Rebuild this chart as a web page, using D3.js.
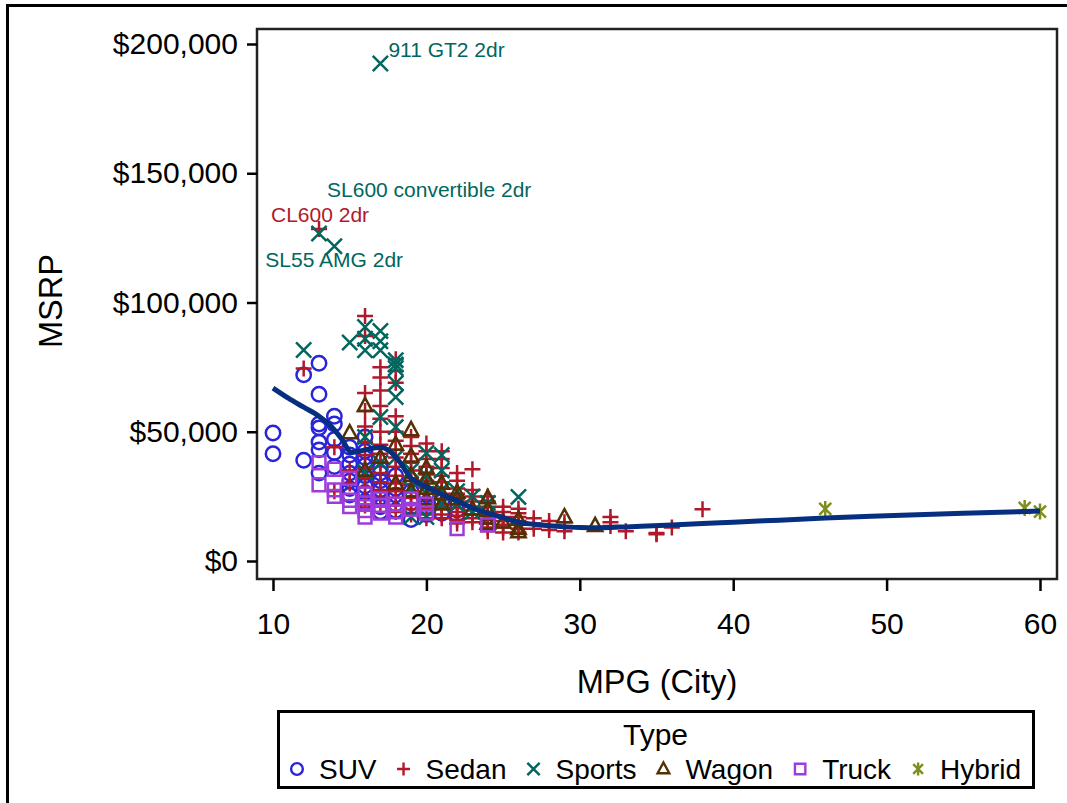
<!DOCTYPE html>
<html>
<head>
<meta charset="utf-8">
<script src="https://cdn.jsdelivr.net/npm/d3@7"></script>
<style>
body { margin: 0; background: #fff; }
svg { display: block; font-family: "Liberation Sans", Arial, sans-serif; }
</style>
</head>
<body>
<svg width="1067" height="803"></svg>
<script>
// values: [MPG (City), MSRP]
var suv = [[10,49500],[10,41500],[12,72000],[12,39000],[13,76500],[13,64500],[13,53000],[13,51500],[13,46000],[13,43000],[13,34000],
  [14,56000],[14,53000],[14,47000],[14,42000],[14,36500],[15,44000],[15,41000],[15,37500],[15,34000],[15,31000],[15,28000],[15,25500],
  [16,48000],[16,42500],[16,40000],[16,37000],[16,33000],[16,29000],[16,26500],[16,23000],[17,36000],[17,34000],[17,31000],[17,27500],
  [17,24500],[17,21000],[17,19000],[18,33000],[18,28000],[18,25500],[18,22000],[18,19500],[19,27000],[19,22500],[19,16000],
  [20,25500],[20,21000],[20,18000],[21,23000],[21,18500],[22,19700],[22,18000]];
var sedan = [[12,74500],[13,128420],[14,27000],[14,44000],[15,35000],[15,30000],
  [16,94800],[16,87000],[16,65000],[16,58000],[16,52000],[16,46000],[16,41000],[16,36000],[16,32000],[16,28500],[16,25000],[16,21500],
  [17,75000],[17,71000],[17,66000],[17,60000],[17,55000],[17,50000],[17,45000],[17,41500],[17,38000],[17,34000],[17,30500],[17,27500],[17,24500],[17,21500],
  [18,78000],[18,73500],[18,69000],[18,56000],[18,50000],[18,46500],[18,43000],[18,40000],[18,36500],[18,33000],[18,30000],[18,27000],[18,24500],[18,21500],[18,19000],
  [19,48000],[19,44500],[19,41500],[19,38000],[19,35000],[19,32000],[19,29500],[19,27000],[19,24500],[19,22000],[19,20000],[19,18000],
  [20,45500],[20,42500],[20,39500],[20,36500],[20,33500],[20,31000],[20,28500],[20,26000],[20,24000],[20,22000],[20,20000],[20,18000],[20,16500],
  [21,42500],[21,39500],[21,36000],[21,33000],[21,30500],[21,28000],[21,26000],[21,24000],[21,22000],[21,20000],[21,18000],[21,16500],
  [22,34000],[22,31000],[22,28000],[22,26000],[22,24000],[22,22000],[22,20500],[22,19000],[22,17500],[22,16000],[22,14500],
  [23,35500],[23,27500],[23,25000],[23,23000],[23,21000],[23,19500],[23,18000],[23,16500],[23,15000],
  [24,25000],[24,23000],[24,21000],[24,19000],[24,17500],[24,16000],[24,14500],[24,13000],[24,11500],
  [25,21000],[25,19000],[25,17000],[25,15500],[25,14000],[25,13000],[25,11000],
  [26,20200],[26,18500],[26,17000],[26,15500],[26,14000],[26,12500],[26,11000],
  [27,16500],[27,14500],[27,12500],[28,15500],[28,13500],[28,12000],[29,15000],[29,13500],[29,11500],
  [32,17000],[32,15000],[32,13500],[33,11500],[35,10800],[35,10300],[36,13000],[38,20000]];
var sports = [[12,81600],[13,126670],[14,121770],[15,84500],[16,90500],[16,86000],[16,81500],[16,48000],[16,34500],
  [17,192465],[17,89000],[17,85000],[17,81500],[17,55700],[17,38000],[18,77700],[18,76000],[18,74600],[18,68800],[18,63400],[18,51800],[18,40000],
  [19,35000],[19,28000],[19,17000],[20,41800],[20,33000],[20,26000],[20,17000],[21,41000],[21,35000],[21,27500],[21,22000],
  [22,27000],[22,22000],[23,25000],[23,19000],[24,22400],[24,18000],[26,24800]];
var wagon = [[15,49500],[16,60000],[16,35000],[17,40000],[18,45000],[18,30000],[19,50700],[19,40500],[19,33000],[19,27000],
  [20,36000],[20,32000],[20,28000],[20,24000],[21,30000],[21,26000],[21,22000],[22,26500],[22,24000],[23,20000],
  [24,24400],[24,19500],[24,16500],[24,14500],[25,15000],[26,16000],[26,12500],[26,11200],[29,17000],[31,13600]];
var truck = [[13,38000],[13,29500],[14,35500],[14,27500],[14,25000],[15,32000],[15,23500],[15,21000],[16,26000],[16,22500],[16,19500],[16,17000],
  [17,24000],[17,21500],[17,18500],[18,22000],[18,19000],[18,17000],[19,20000],[19,24000],[20,18500],[20,22000],[22,12500],[24,14000]];
var hybrid = [[46,20140],[59,20510],[60,19110]];

// loess fit
var fitMpg  = [10, 11, 12, 13, 13.8, 14.5, 15.1, 16, 17, 17.6, 18.3, 19, 19.7, 20.4, 21.3, 22, 23, 24, 25, 26, 27, 28, 29, 30, 31, 32, 33, 34, 36, 38, 40, 43, 46, 49, 52, 55, 58, 60];
var fitMsrp = [66900, 63000, 59500, 56000, 52000, 47000, 42000, 43000, 44000, 42500, 38000, 32000, 29500, 27500, 25000, 23300, 20500, 18500, 16800, 15000, 14200, 13600, 13200, 13000, 12900, 13000, 13200, 13400, 13900, 14500, 15000, 15800, 16600, 17300, 17900, 18500, 19000, 19300];

var typeNames = ['SUV', 'Sedan', 'Sports', 'Wagon', 'Truck', 'Hybrid'];
var typeData = [suv, sedan, sports, wagon, truck, hybrid];
var typeColors = ['#2A25D9', '#B2182B', '#01665E', '#543005', '#9D3CDB', '#7F8E1F'];
var typeShapes = ['circle', 'plus', 'x', 'triangle', 'square', 'asterisk'];

var xTicks = [10, 20, 30, 40, 50, 60];
var yTicks = [0, 50000, 100000, 150000, 200000];

// labelled outliers
var labelText = ['911 GT2 2dr', 'SL600 convertible 2dr', 'CL600 2dr', 'SL55 AMG 2dr'];
var labelPoint = [[17,192465], [13,126670], [13,128420], [14,121770]];
var labelType = [2, 2, 1, 2];
var labelOffset = [[8,-6], [8,-37], [-48,-7], [-69,21]];

var svg = d3.select('svg');

// outer frame (left and top edges only visible)
svg.append('path')
    .attr('d', 'M7.5,803 V5.5 H1067')
    .attr('fill', 'none').attr('stroke', '#000').attr('stroke-width', 3);

var x = d3.scaleLinear().domain([10, 60]).range([273, 1040]);
var y = d3.scaleLinear().domain([0, 200000]).range([561, 44]);
var frame = {left: 257, right: 1057, top: 29, bottom: 579};

function marker(shape, r) {
  if (shape == 'circle') { var c = r * 0.9; return 'M' + c + ',0A' + c + ',' + c + ' 0 1 1 ' + (-c) + ',0A' + c + ',' + c + ' 0 1 1 ' + c + ',0'; }
  if (shape == 'plus') return 'M' + (-r) + ',0H' + r + 'M0,' + (-r) + 'V' + r;
  if (shape == 'x') { var a = r * 0.95; return 'M' + (-a) + ',' + (-a) + 'L' + a + ',' + a + 'M' + (-a) + ',' + a + 'L' + a + ',' + (-a); }
  if (shape == 'triangle') return 'M0,' + (-r * 1.0) + 'L' + (r * 0.9) + ',' + (r * 0.65) + 'H' + (-r * 0.9) + 'Z';
  if (shape == 'square') { var s = r * 0.8; return 'M' + (-s) + ',' + (-s) + 'H' + s + 'V' + s + 'H' + (-s) + 'Z'; }
  var b = r * 0.75;
  return 'M0,' + (-r) + 'V' + r + 'M' + (-b) + ',' + (-b) + 'L' + b + ',' + b + 'M' + (-b) + ',' + b + 'L' + b + ',' + (-b);
}

// points
var plot = svg.append('g');
typeData.forEach(function(arr, i) {
  plot.append('g').selectAll('path')
    .data(arr)
    .enter().append('path')
      .attr('transform', function(d) { return 'translate(' + x(d[0]) + ',' + y(d[1]) + ')'; })
      .attr('d', marker(typeShapes[i], 8))
      .attr('fill', 'none')
      .attr('stroke', typeColors[i])
      .attr('stroke-width', 2.5);
});

// loess curve
var line = d3.line()
    .x(function(d, i) { return x(fitMpg[i]); })
    .y(function(d) { return y(d); })
    .curve(d3.curveMonotoneX);
svg.append('path')
    .attr('d', line(fitMsrp))
    .attr('fill', 'none')
    .attr('stroke', '#062F80')
    .attr('stroke-width', 5)
    .attr('stroke-linejoin', 'round');

// point labels
svg.append('g').selectAll('text')
  .data(labelText)
  .enter().append('text')
    .attr('x', function(d, i) { return x(labelPoint[i][0]) + labelOffset[i][0]; })
    .attr('y', function(d, i) { return y(labelPoint[i][1]) + labelOffset[i][1]; })
    .attr('fill', function(d, i) { return typeColors[labelType[i]]; })
    .attr('font-size', 21)
    .text(function(d) { return d; });

// plot frame
svg.append('rect')
    .attr('x', frame.left).attr('y', frame.top)
    .attr('width', frame.right - frame.left).attr('height', frame.bottom - frame.top)
    .attr('fill', 'none').attr('stroke', '#222').attr('stroke-width', 2.5);

// y axis
var yAxis = svg.append('g')
    .attr('transform', 'translate(' + frame.left + ',0)')
    .call(d3.axisLeft(y).tickValues(yTicks).tickSize(10).tickPadding(9)
      .tickFormat(function(d) { return '$' + d3.format(',')(d); }));
yAxis.select('.domain').remove();
yAxis.selectAll('line').attr('stroke', '#000').attr('stroke-width', 2.5);
yAxis.selectAll('text').attr('font-size', 30).attr('fill', '#000').attr('font-family', 'Liberation Sans, Arial, sans-serif');

// x axis
var xAxis = svg.append('g')
    .attr('transform', 'translate(0,' + frame.bottom + ')')
    .call(d3.axisBottom(x).tickValues(xTicks).tickSize(12).tickPadding(22));
xAxis.select('.domain').remove();
xAxis.selectAll('line').attr('stroke', '#000').attr('stroke-width', 2.5);
xAxis.selectAll('text').attr('font-size', 30).attr('fill', '#000').attr('font-family', 'Liberation Sans, Arial, sans-serif');

// axis titles
svg.append('text')
    .attr('x', (frame.left + frame.right) / 2).attr('y', 693)
    .attr('text-anchor', 'middle').attr('font-size', 32.5)
    .text('MPG (City)');
svg.append('text')
    .attr('transform', 'translate(62,' + ((frame.top + frame.bottom) / 2 - 3) + ') rotate(-90)')
    .attr('text-anchor', 'middle').attr('font-size', 32.5)
    .text('MSRP');

// legend
var leg = svg.append('g');
leg.append('rect')
    .attr('x', 278.5).attr('y', 711.5).attr('width', 755).attr('height', 76)
    .attr('fill', 'none').attr('stroke', '#000').attr('stroke-width', 3);
leg.append('text')
    .attr('x', 655.5).attr('y', 745)
    .attr('text-anchor', 'middle').attr('font-size', 30)
    .text('Type');

var items = leg.selectAll('g.item')
  .data(typeNames)
  .enter().append('g').attr('class', 'item');
items.append('path')
    .attr('d', function(d, i) { return marker(typeShapes[i], 6.5); })
    .attr('fill', 'none')
    .attr('stroke', function(d, i) { return typeColors[i]; })
    .attr('stroke-width', 2.4);
items.append('text')
    .attr('x', 22).attr('y', 10)
    .attr('font-size', 28)
    .text(function(d) { return d; });

var widths = [];
items.each(function() { widths.push(this.querySelector('text').getComputedTextLength()); });
var gap = 27, total = 7 + d3.sum(widths) + widths.length * 22 + (widths.length - 1) * gap;
var cx = 655.5 - total / 2 + 7;
items.attr('transform', function(d, i) {
  var pos = cx;
  cx += 22 + widths[i] + gap;
  return 'translate(' + pos + ',769)';
});
</script>
</body>
</html>
